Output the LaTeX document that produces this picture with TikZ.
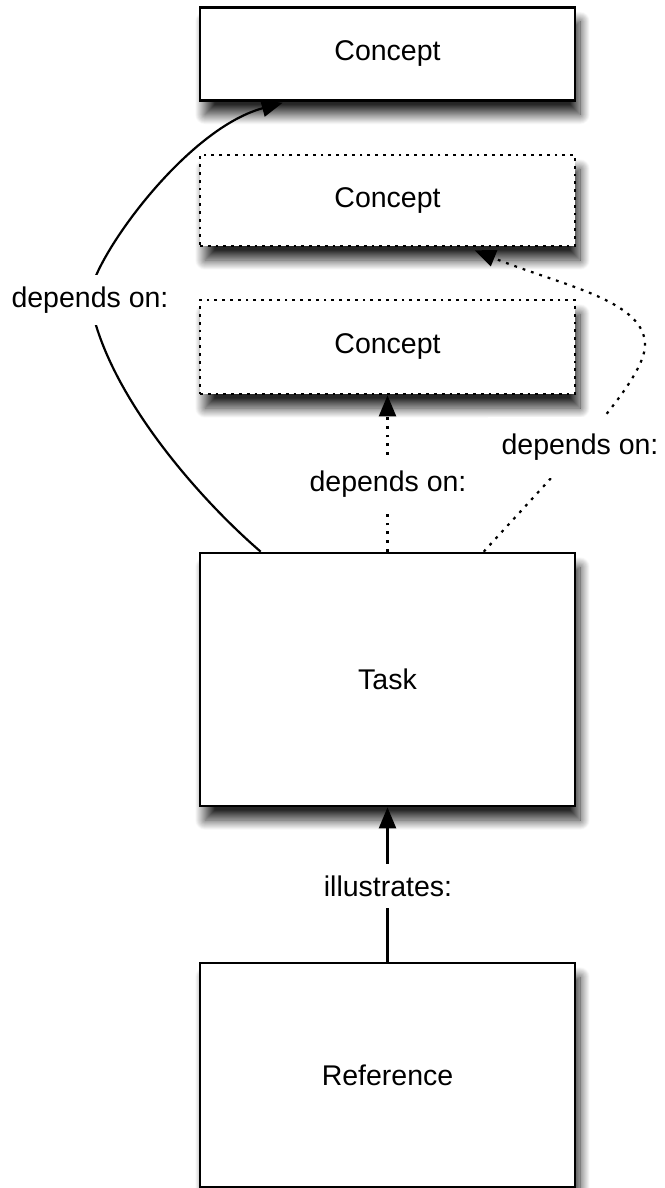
\documentclass[tikz,border=0pt]{standalone}
\usepackage{fontspec}
\setmainfont{Liberation Sans}
\usetikzlibrary{arrows.meta,calc,shadows.blur}
\begin{document}
\begin{tikzpicture}[x=1pt,y=-1pt,
  every node/.style={font=\fontsize{28.5}{34}\selectfont},
  box/.style={draw,line width=2.6pt,fill=white,minimum width=375pt,inner sep=0pt,
    blur shadow={shadow xshift=5pt,shadow yshift=-14pt,shadow blur radius=10pt,shadow blur steps=20,shadow opacity=85}},
  dotbox/.style={box,dash pattern=on 2.8pt off 5pt},
  conn/.style={line width=2.2pt},
  dotconn/.style={conn,dash pattern=on 2.8pt off 6pt},
  tip/.style={-{Triangle[length=21pt,width=17pt]}},
  lbl/.style={fill=white,inner sep=12pt}]
\useasboundingbox (0,0) rectangle (664,1188);
\node[box,minimum height=93pt] (c1) at (387.5,54) {Concept};
\node[dotbox,minimum height=91pt] (c2) at (387.5,200.5) {Concept};
\node[dotbox,minimum height=94pt] (c3) at (387.5,347) {Concept};
\node[box,minimum height=253pt] (task) at (387.5,679.5) {Task};
\node[box,minimum height=224pt] (ref) at (387.5,1075) {Reference};
% solid curve task -> c1
\draw[conn,tip] ($(task.north west)+(62,0)$) .. controls (195,495) and (105,390) .. (90,300)
  .. controls (85,270) and (182,130) .. ($(c1.south west)+(84,1)$);
\node[lbl] (l1) at (90,300) {depends on:};
% dotted vertical task -> c3
\draw[dotconn,tip] (task.north) -- (c3.south);
\node[lbl] (l2) at (388,484) {depends on:};
% dotted curve task -> c2
\draw[dotconn,tip] ($(task.north west)+(285,0)$) .. controls (570,457) and (645,380) .. (645,345)
  .. controls (645,300) and (560,285) .. ($(c2.south west)+(276,3)$);
\node[fill=white,minimum width=185pt,minimum height=61pt,inner sep=0pt] (l3) at (580,447) {depends on:};
% illustrates
\draw[conn,tip] (ref.north) -- (task.south);
\node[lbl] (l4) at (388,886) {illustrates:};
\end{tikzpicture}
\end{document}
